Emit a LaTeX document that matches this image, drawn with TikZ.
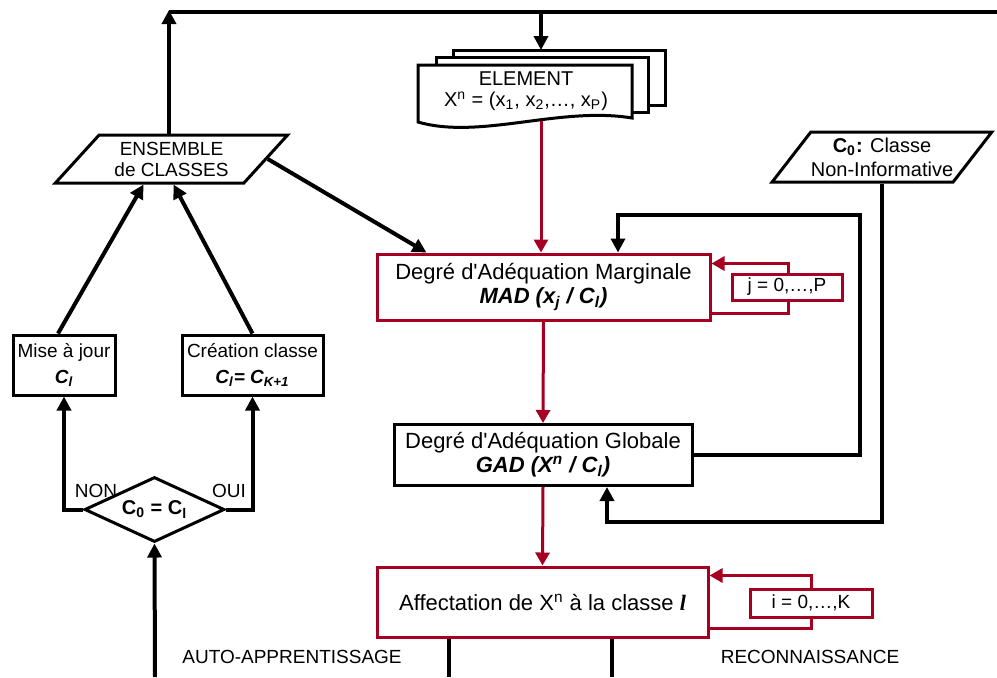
\documentclass[tikz,border=0pt]{standalone}
\usepackage{fontspec}
\setmainfont{Liberation Sans}[Ligatures=TeXOff]
\newfontfamily\seriffont{Liberation Serif}
\usetikzlibrary{arrows.meta,shapes.geometric}
\definecolor{bordeaux}{RGB}{165,0,33}

\tikzset{
  bigtxt/.style={font=\fontsize{11}{12}\selectfont},
  smalltxt/.style={font=\fontsize{9.5}{11}\selectfont},
  blackbox/.style={draw, line width=1.5pt, fill=white, align=center, inner sep=1pt},
  redbox/.style={draw=bordeaux, line width=1.5pt, fill=white, align=center, inner sep=1pt},
  para/.style={trapezium, trapezium left angle=45, trapezium right angle=135,
    trapezium stretches=true, draw, line width=1.5pt, fill=white, align=center, inner sep=0pt},
  flow/.style={line width=2pt, -{Triangle[length=7pt,width=7pt]}},
  plain/.style={line width=2pt},
  redflow/.style={bordeaux, line width=1.5pt, -{Triangle[length=6.5pt,width=7pt]}},
}

\begin{document}
\begin{tikzpicture}[x=0.5pt,y=-0.5pt]
  \useasboundingbox (0,0) rectangle (997,677);

  % stacked document
  \draw[line width=1.5pt, fill=white] (453,50) rectangle (665,105);
  \draw[line width=1.5pt, fill=white] (436,57) rectangle (648,112);
  \draw[line width=1.5pt, fill=white] (418,65) -- (632,65) -- (632,118)
    .. controls (560,106) and (480,140) .. (418,122) -- cycle;
  \node[font=\fontsize{10}{10.5}\selectfont, align=center] (elem) at (526,91)
    {ELEMENT\\X\textsuperscript{n} = (x\textsubscript{1}, x\textsubscript{2},…, x\textsubscript{P})};
  \coordinate (stacktop) at (541,50);
  \coordinate (elembot) at (541,121);

  % boxes
  \node[redbox, bigtxt, minimum width=166.5pt, minimum height=33pt] (mad) at (543.5,287)
    {Degré d'Adéquation Marginale\\\textbf{\textit{MAD (x\textsubscript{j} / C\textsubscript{l})}}};
  \node[blackbox, bigtxt, minimum width=149pt, minimum height=30.5pt] (gad) at (543,455)
    {Degré d'Adéquation Globale\\\textbf{\textit{GAD (X\textsuperscript{n} / C\textsubscript{l})}}};
  \node[redbox, bigtxt, minimum width=165.5pt, minimum height=35pt] (aff) at (542.5,602)
    {Affectation de X\textsuperscript{n} à la classe {\seriffont\bfseries\itshape l}};
  \node[blackbox, font=\fontsize{9.5}{13}\selectfont, minimum width=51pt, minimum height=30pt] (mise) at (64,365)
    {Mise à jour\\\textbf{\textit{C\textsubscript{l}}}};
  \node[blackbox, font=\fontsize{9.5}{13}\selectfont, minimum width=70.5pt, minimum height=30pt] (creat) at (252.5,365)
    {Création classe\\\textbf{\textit{C\textsubscript{l}= C\textsubscript{K+1}}}};

  % parallelograms
  \node[para, font=\fontsize{9.5}{10.5}\selectfont, minimum width=116.5pt, minimum height=24pt] (ens) at (171.5,159)
    {ENSEMBLE\\de CLASSES};
  \node[para, font=\fontsize{10}{12}\selectfont, minimum width=110pt, minimum height=25pt] (czero) at (882,157)
    {\textbf{C\textsubscript{0}:} Classe\\Non-Informative};

  % decision
  \node[diamond, draw, line width=1.5pt, fill=white, inner sep=0pt, aspect=2.15,
    minimum width=70pt, minimum height=32.5pt, font=\fontsize{10}{12}\selectfont] (test) at (154.5,509.5)
    {\textbf{C\textsubscript{0} = C\textsubscript{l}}};
  \node[smalltxt] (nonlbl) at (96,491) {NON};
  \node[smalltxt] (ouilbl) at (229,491) {OUI};

  % top feedback line
  \coordinate (tl) at (169,10);
  \coordinate (tr) at (997,12);
  \draw[flow] (ens.north -| tl) -- (tl);
  \draw[plain] (tl |- tr) -- (tr);
  \draw[flow] (stacktop |- tr) -- (stacktop);

  % main chain
  \draw[redflow] (elembot) -- (elembot |- mad.north);
  \draw[redflow] (mad.south) -- (gad.north);
  \draw[redflow] (gad.south) -- (aff.north);
  \draw[flow] (ens.east) -- ([xshift=25.5pt]mad.north west);

  % loops
  \draw[redflow] ([yshift=4pt]mad.south east) -- ++(77,0) |- ([yshift=-5.5pt]mad.north east);
  \node[redbox, smalltxt, minimum width=55pt, minimum height=13pt] (jbox) at (787,287) {j = 0,…,P};
  \draw[redflow] ([yshift=5pt]aff.south east) -- ++(102,0) |- ([yshift=-5pt]aff.north east);
  \node[redbox, smalltxt, minimum width=61pt, minimum height=14pt] (ibox) at (811,603) {i = 0,…,K};

  \coordinate (gadret) at (618,215);
  \draw[flow] (gad.east) -- ++(166,0) |- (gadret) -- (gadret |- mad.north);
  \coordinate (czret) at (607,522);
  \draw[flow] (czero.south) |- (czret) -- (czret |- gad.south);

  % outputs of the assignment
  \coordinate (learnout) at (449,677);
  \coordinate (recout) at (612,677);
  \draw[plain] (learnout |- aff.south) -- (learnout);
  \draw[plain] (recout |- aff.south) -- (recout);
  \node[smalltxt] (autolbl) at (292,657) {AUTO-APPRENTISSAGE};
  \node[smalltxt] (reclbl) at (810,657) {RECONNAISSANCE};

  % self-learning branch
  \coordinate (learnin) at (155,677);
  \draw[flow] (learnin) -- (test.south);
  \draw[flow] (test.west) -| (mise.south);
  \draw[flow] (test.east) -| (creat.south);
  \draw[flow] ([xshift=-3pt]mise.north) -- ([xshift=-14pt]ens.south);
  \draw[flow] (creat.north) -- ([xshift=1pt]ens.south);
\end{tikzpicture}
\end{document}
